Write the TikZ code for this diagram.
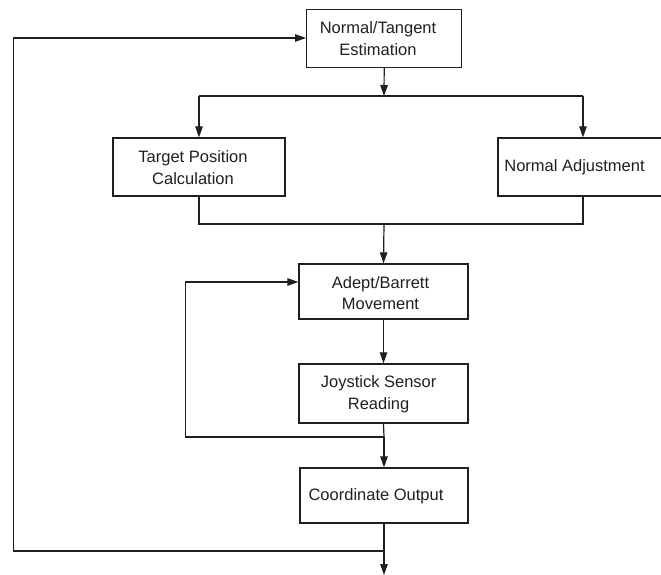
\documentclass[tikz,border=0pt]{standalone}
\usepackage{fontspec}
\setmainfont{Liberation Sans}
\usetikzlibrary{arrows.meta,calc}
\begin{document}
\begin{tikzpicture}[x=1pt,y=-1pt,
  box/.style={draw=black!88,line width=1.3pt,inner sep=0pt},
  lbl/.style={align=center,inner sep=0pt,font=\fontsize{16.5}{21.5}\selectfont,text=black!88},
  conn/.style={draw=black!88,line width=1.2pt},
  arr/.style={conn,-{Triangle[length=11pt,width=7.5pt]}}]
\useasboundingbox (0,0) rectangle (661,575);
% boxes
\node[box,minimum width=155pt,minimum height=58pt] (nt) at (384.2,38.5) {};
\node[box,minimum width=172pt,minimum height=58pt] (tp) at (199,167) {};
\node[box,minimum width=170pt,minimum height=58pt] (na) at (583,167) {};
\node[box,minimum width=169pt,minimum height=55pt] (ab) at (383.5,291.5) {};
\node[box,minimum width=169pt,minimum height=59pt] (js) at (383.5,393.5) {};
\node[box,minimum width=168pt,minimum height=55pt] (co) at (384,495.5) {};
% labels
\node[lbl] (ntl) at (378,38.5) {Normal/Tangent\\Estimation};
\node[lbl] (tpl) at (193,167.5) {Target Position\\Calculation};
\node[lbl] (nal) at (574.5,167) {Normal Adjustment};
\node[lbl] (abl) at (380.5,293) {Adept/Barrett\\Movement};
\node[lbl] (jsl) at (378.6,394) {Joystick Sensor\\Reading};
\node[lbl] (col) at (376,496.5) {Coordinate Output};
% junction points
\coordinate (split) at (384,96);
\coordinate (merge) at (384,224);
\coordinate (j2) at (384,437);
\coordinate (fbtop) at (185.5,282);
\coordinate (fbbot) at (185.5,437);
\coordinate (o1) at (384,551);
\coordinate (ol) at (13.5,551);
\coordinate (otop) at (13.5,38);
\coordinate (out) at (384,575);
% connectors
\draw[arr] (nt.south) -- (split);
\draw[conn] (tp.north |- split) -- (na.north |- split);
\draw[arr] (tp.north |- split) -- (tp.north);
\draw[arr] (na.north |- split) -- (na.north);
\draw[conn] (tp.south) |- (merge);
\draw[conn] (na.south) |- (merge);
\draw[arr] (merge) -- (ab.north);
\draw[arr] (ab.south) -- (js.north);
\draw[conn] (js.south) -- (j2);
\draw[arr] (j2) -- (co.north);
\draw[arr] (j2) -- (fbbot) -- (fbtop) -- (ab.west |- fbtop);
\draw[conn] (co.south) -- (o1);
\draw[arr] (o1) -- (out);
\draw[arr] (o1) -- (ol) -- (otop) -- (nt.west |- otop);
\end{tikzpicture}
\end{document}
